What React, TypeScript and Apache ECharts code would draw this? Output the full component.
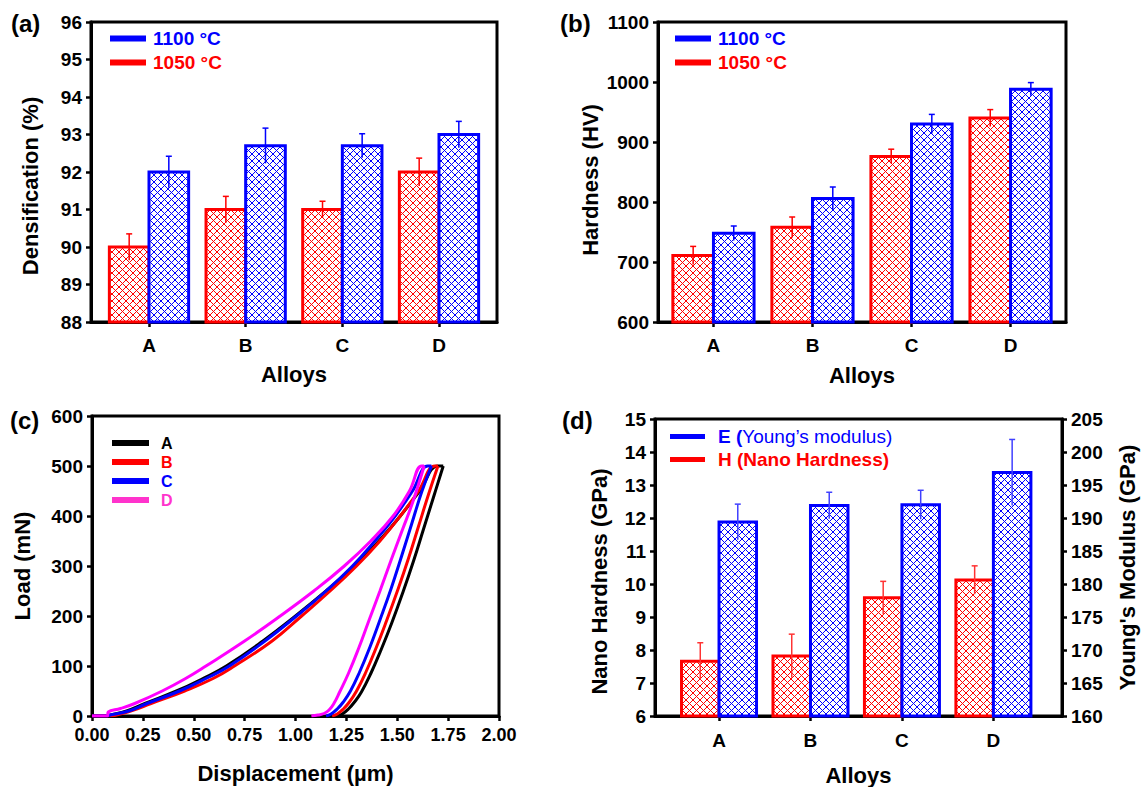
import { useEffect, useRef } from 'react';
import * as echarts from 'echarts';

const FONT = '"Liberation Sans", Arial, Helvetica, sans-serif';
const RED = '#FF0000';
const BLUE = '#0000FF';
const MAGENTA = '#FF00FF';
const PINK = '#FF33CC';

const alloyNames = ['A', 'B', 'C', 'D'];
const alloyPos = [1, 2, 3, 4];

// (a) Densification (%)
const dens1050 = [90.0, 91.0, 91.0, 92.0];
const dens1050Err = [0.35, 0.35, 0.22, 0.37];
const dens1100 = [92.0, 92.7, 92.7, 93.0];
const dens1100Err = [0.42, 0.47, 0.32, 0.35];

// (b) Hardness (HV)
const hard1050 = [711, 758, 876, 940];
const hard1050Err = [15, 17, 12, 14];
const hard1100 = [748, 806, 930, 988];
const hard1100Err = [12, 19, 16, 11];

// (c) Load-displacement curves [displacement um, load mN]
const loadA = [[0, 0], [0.075, 0], [0.08, 1], [0.17, 10], [0.26, 25], [0.415, 50], [0.545, 75], [0.66, 100], [0.84, 150], [1.0, 200], [1.15, 250], [1.29, 300], [1.41, 350], [1.515, 400], [1.61, 450], [1.70, 500], [1.726, 500]];
const unloadA = [[1.205, 0], [1.23, 4], [1.26, 14], [1.29, 28], [1.324, 48], [1.37, 85], [1.42, 132], [1.472, 185], [1.53, 250], [1.58, 310], [1.63, 375], [1.68, 440], [1.726, 500]];
const loadB = [[0, 0], [0.075, 0], [0.08, 0], [0.19, 10], [0.29, 25], [0.455, 50], [0.595, 75], [0.70, 100], [0.885, 150], [1.03, 200], [1.17, 250], [1.30, 300], [1.415, 350], [1.515, 400], [1.605, 450], [1.685, 500], [1.70, 500]];
const unloadB = [[1.18, 0], [1.205, 4], [1.235, 14], [1.265, 28], [1.30, 50], [1.345, 87], [1.395, 135], [1.447, 190], [1.505, 255], [1.555, 315], [1.605, 380], [1.655, 445], [1.70, 500]];
const loadC = [[0, 0], [0.075, 0], [0.08, 1], [0.18, 10], [0.27, 25], [0.43, 50], [0.56, 75], [0.675, 100], [0.85, 150], [1.005, 200], [1.15, 250], [1.28, 300], [1.39, 350], [1.49, 400], [1.575, 450], [1.65, 500], [1.668, 500]];
const unloadC = [[1.15, 0], [1.175, 4], [1.205, 14], [1.235, 28], [1.27, 50], [1.315, 88], [1.365, 137], [1.415, 192], [1.47, 255], [1.52, 318], [1.57, 383], [1.62, 448], [1.668, 500]];
const loadD = [[0, 0], [0.075, 0], [0.08, 8], [0.14, 15], [0.21, 25], [0.345, 50], [0.46, 75], [0.56, 100], [0.75, 150], [0.925, 200], [1.09, 250], [1.24, 300], [1.37, 350], [1.48, 400], [1.56, 450], [1.62, 500], [1.632, 500]];
const unloadD = [[1.078, 0], [1.11, 2], [1.14, 5], [1.165, 12], [1.19, 26], [1.217, 48], [1.26, 85], [1.31, 135], [1.36, 190], [1.415, 250], [1.47, 312], [1.525, 372], [1.578, 430], [1.632, 500]];

// (d) Nano hardness (GPa) and Young's modulus (GPa)
const nanoH = [7.66, 7.82, 9.58, 10.12];
const nanoHErr = [0.56, 0.66, 0.5, 0.43];
const youngE = [189.4, 191.9, 192.0, 196.9];
const youngEErr = [2.7, 2.0, 2.2, 5.0];

const BAR_W = 0.41;

function barRenderer(side: number, color: string, base: number, errColor: string) {
  return (params: any, api: any) => {
    const x = api.value(0);
    const v = api.value(1);
    const e = api.value(2);
    const xl = side < 0 ? x - BAR_W : x;
    const xr = side < 0 ? x : x + BAR_W;
    const tl = api.coord([xl, v]);
    const br = api.coord([xr, base]);
    const x0 = tl[0], y0 = tl[1], x1 = br[0], y1 = br[1];
    const children: any[] = [];
    children.push({ type: 'rect', shape: { x: x0, y: y0, width: x1 - x0, height: y1 - y0 }, style: { fill: '#fff' } });
    const step = 7;
    const ix0 = x0 + 1, ix1 = x1 - 1, iy0 = y0 + 1, iy1 = y1;
    for (let c = Math.ceil((iy0 - ix1) / step) * step; c <= iy1 - ix0; c += step) {
      const xa = Math.max(ix0, iy0 - c);
      const xb = Math.min(ix1, iy1 - c);
      if (xb > xa) children.push({ type: 'line', shape: { x1: xa, y1: xa + c, x2: xb, y2: xb + c }, style: { stroke: color, lineWidth: 1 } });
    }
    for (let c = Math.ceil((ix0 + iy0) / step) * step; c <= ix1 + iy1; c += step) {
      const xa = Math.max(ix0, c - iy1);
      const xb = Math.min(ix1, c - iy0);
      if (xb > xa) children.push({ type: 'line', shape: { x1: xa, y1: c - xa, x2: xb, y2: c - xb }, style: { stroke: color, lineWidth: 1 } });
    }
    children.push({ type: 'rect', shape: { x: x0, y: y0, width: x1 - x0, height: y1 - y0 }, style: { fill: 'none', stroke: color, lineWidth: 3 } });
    const xc = (x0 + x1) / 2;
    const pt = api.coord([(xl + xr) / 2, v + e]);
    const pb = api.coord([(xl + xr) / 2, v - e]);
    children.push({ type: 'line', shape: { x1: xc, y1: pt[1], x2: xc, y2: pb[1] }, style: { stroke: errColor, lineWidth: 1.5 } });
    children.push({ type: 'line', shape: { x1: xc - 3, y1: pt[1], x2: xc + 3, y2: pt[1] }, style: { stroke: errColor, lineWidth: 1.5 } });
    return { type: 'group', children };
  };
}

function barSeries(name: string, vals: number[], errs: number[], side: number, color: string, base: number, xi: number, yi: number, errColor: string) {
  return {
    type: 'custom',
    name,
    xAxisIndex: xi,
    yAxisIndex: yi,
    color,
    itemStyle: { color },
    dimensions: ['x', 'y', 'err'],
    encode: { x: 0, y: 1 },
    data: vals.map((v, i) => [alloyPos[i], v, errs[i]]),
    renderItem: barRenderer(side, color, base, errColor),
  };
}

const tickLabel = { color: '#000', fontWeight: 'bold', fontSize: 19, fontFamily: FONT };
const titleText = { color: '#000', fontWeight: 'bold', fontSize: 22, fontFamily: FONT };
const axLine = { show: true, onZero: false, lineStyle: { color: '#000', width: 3 } };
const axTick = { show: true, length: 5, lineStyle: { color: '#000', width: 2.5 } };

function catXAxis(gridIndex: number, min: number, max: number, margin: number, nameGap: number) {
  return {
    type: 'value', gridIndex, min, max,
    axisLine: axLine,
    axisTick: { ...axTick, customValues: alloyPos },
    axisLabel: { ...tickLabel, margin, customValues: alloyPos, formatter: (v: number) => alloyNames[Math.round(v) - 1] ?? '' },
    splitLine: { show: false },
    name: 'Alloys', nameLocation: 'middle', nameGap, nameTextStyle: titleText,
  };
}

function valYAxis(gridIndex: number, min: number, max: number, interval: number, name: string, nameGap: number, shift: number, position = 'left') {
  return {
    type: 'value', gridIndex, min, max, interval, position,
    axisLine: axLine,
    axisTick: axTick,
    axisLabel: { ...tickLabel, margin: 9, formatter: (v: number) => String(v) },
    splitLine: { show: false },
    name, nameLocation: 'middle', nameGap, nameRotate: 90,
    nameTextStyle: { ...titleText, padding: [0, shift * 2, 0, 0] },
  };
}

const legendBase = { orient: 'vertical', padding: 0, icon: 'rect', itemWidth: 36, itemHeight: 6, selectedMode: false };

export default function App() {
  const ref = useRef<HTMLDivElement>(null);
  useEffect(() => {
    if (!ref.current) return;
    const chart = echarts.init(ref.current, undefined, { renderer: 'svg' });
    const lineS = (name: string, data: number[][], color: string) => ({
      type: 'line', name, xAxisIndex: 2, yAxisIndex: 2, data, symbol: 'none', showSymbol: false,
      smooth: 0.45, color, lineStyle: { width: 3, color }, itemStyle: { color },
    });
    const option: any = {
      animation: false,
      backgroundColor: '#fff',
      grid: [
        { left: 91, top: 22, width: 406, height: 300, show: true, borderColor: '#000', borderWidth: 3, backgroundColor: 'transparent' },
        { left: 658, top: 22, width: 408, height: 300, show: true, borderColor: '#000', borderWidth: 3, backgroundColor: 'transparent' },
        { left: 92, top: 416, width: 407, height: 300, show: true, borderColor: '#000', borderWidth: 3, backgroundColor: 'transparent' },
        { left: 655, top: 419, width: 407, height: 298, show: true, borderColor: '#000', borderWidth: 3, backgroundColor: 'transparent' },
      ],
      xAxis: [
        catXAxis(0, 0.4, 4.6, 14, 41),
        catXAxis(1, 0.44, 4.56, 14, 42),
        {
          type: 'value', gridIndex: 2, min: 0, max: 2, interval: 0.25,
          axisLine: axLine, axisTick: axTick,
          axisLabel: { ...tickLabel, fontSize: 18, margin: 10, formatter: (v: number) => v.toFixed(2) },
          splitLine: { show: false },
          name: 'Displacement (µm)', nameLocation: 'middle', nameGap: 46, nameTextStyle: titleText,
        },
        catXAxis(3, 0.3, 4.75, 15, 48),
      ],
      yAxis: [
        valYAxis(0, 88, 96, 1, 'Densification (%)', 50, 14),
        valYAxis(1, 600, 1100, 100, 'Hardness (HV)', 57, 8),
        valYAxis(2, 0, 600, 100, 'Load (mN)', 59, 0),
        valYAxis(3, 6, 15, 1, 'Nano Hardness (GPa)', 45, 14),
        valYAxis(3, 160, 205, 5, "Young's Modulus (GPa)", 54, 0, 'right'),
      ],
      legend: [
        {
          ...legendBase, left: 110, top: 29, itemGap: 5,
          textStyle: { fontSize: 19, lineHeight: 19, fontWeight: 'bold', fontFamily: FONT, padding: [0, 0, 0, 2] },
          data: [{ name: '1100 °C', textStyle: { color: BLUE } }, { name: '1050 °C', textStyle: { color: RED } }],
        },
        {
          ...legendBase, left: 675, top: 29, itemGap: 5,
          textStyle: { fontSize: 19, lineHeight: 19, fontWeight: 'bold', fontFamily: FONT, padding: [0, 0, 0, 2] },
          data: [{ name: '1100 °C', textStyle: { color: BLUE } }, { name: '1050 °C', textStyle: { color: RED } }],
        },
        {
          ...legendBase, left: 112, top: 435, itemGap: 3, itemWidth: 37,
          textStyle: { fontSize: 16, lineHeight: 16, fontWeight: 'bold', fontFamily: FONT, padding: [0, 0, 0, 7] },
          data: [
            { name: 'A', textStyle: { color: '#000' } },
            { name: 'B', textStyle: { color: RED } },
            { name: 'C', textStyle: { color: BLUE } },
            { name: 'D', textStyle: { color: PINK }, itemStyle: { color: PINK } },
          ],
        },
        {
          ...legendBase, left: 670, top: 427, itemGap: 4, itemWidth: 35, itemHeight: 5,
          textStyle: {
            fontSize: 19, lineHeight: 19, fontFamily: FONT, padding: [0, 0, 0, 8],
            rich: {
              eb: { fontSize: 19, fontWeight: 'bold', color: BLUE, fontFamily: FONT },
              en: { fontSize: 19, fontWeight: 'normal', color: BLUE, fontFamily: FONT },
              hb: { fontSize: 19, fontWeight: 'bold', color: RED, fontFamily: FONT },
            },
          },
          formatter: (name: string) => name.startsWith('E') ? '{eb|E (}{en|Young’s modulus)}' : '{hb|H (Nano Hardness)}',
          data: [{ name: 'E (Young’s modulus)' }, { name: 'H (Nano Hardness)' }],
        },
      ],
      graphic: [
        { type: 'text', x: 11, y: 23, style: { text: '(a)', font: `bold 24px ${FONT}`, fill: '#000', verticalAlign: 'middle' } },
        { type: 'text', x: 560, y: 23, style: { text: '(b)', font: `bold 24px ${FONT}`, fill: '#000', verticalAlign: 'middle' } },
        { type: 'text', x: 10, y: 420, style: { text: '(c)', font: `bold 24px ${FONT}`, fill: '#000', verticalAlign: 'middle' } },
        { type: 'text', x: 562, y: 420, style: { text: '(d)', font: `bold 24px ${FONT}`, fill: '#000', verticalAlign: 'middle' } },
      ],
      series: [
        barSeries('1050 °C', dens1050, dens1050Err, -1, RED, 88, 0, 0, RED),
        barSeries('1100 °C', dens1100, dens1100Err, 1, BLUE, 88, 0, 0, BLUE),
        barSeries('1050 °C', hard1050, hard1050Err, -1, RED, 600, 1, 1, RED),
        barSeries('1100 °C', hard1100, hard1100Err, 1, BLUE, 600, 1, 1, BLUE),
        lineS('A', loadA, '#000'), lineS('A', unloadA, '#000'),
        lineS('B', loadB, RED), lineS('B', unloadB, RED),
        lineS('C', loadC, BLUE), lineS('C', unloadC, BLUE),
        lineS('D', loadD, MAGENTA), lineS('D', unloadD, MAGENTA),
        barSeries('H (Nano Hardness)', nanoH, nanoHErr, -1, RED, 6, 3, 3, '#FF3333'),
        barSeries('E (Young’s modulus)', youngE, youngEErr, 1, BLUE, 160, 3, 4, '#4040FF'),
      ],
    };
    chart.setOption(option);
    return () => chart.dispose();
  }, []);
  return <div ref={ref} style={{ position: 'fixed', left: 0, top: 0, width: 1142, height: 787, background: '#fff' }} />;
}
